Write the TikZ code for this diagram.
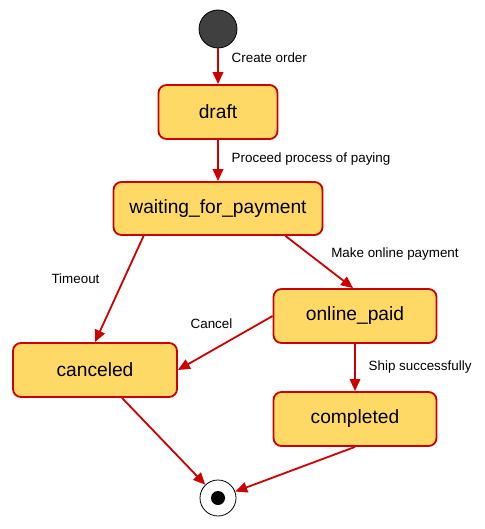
\documentclass[tikz,border=0pt]{standalone}
\usepackage{fontspec}
\setmainfont{Liberation Sans}
\usetikzlibrary{arrows.meta}
\definecolor{stfill}{HTML}{FFD966}
\definecolor{stline}{HTML}{CC0000}
\definecolor{initfill}{HTML}{404040}
\tikzset{
  statebox/.style={draw=stline, fill=stfill, line width=1.8pt, rounded corners=8pt,
    inner sep=0pt, font=\fontsize{19.2}{22}\selectfont},
  trans/.style={draw=stline, line width=1.8pt, -{Triangle[length=12pt,width=10.5pt]}},
  lbl/.style={font=\fontsize{13.4}{15}\selectfont, inner sep=0pt},
}
\begin{document}
\begin{tikzpicture}[x=1pt,y=-1pt]
\useasboundingbox (0,0) rectangle (484,529);
\node[circle, draw=black, fill=initfill, line width=0.8pt, minimum size=38pt, inner sep=0pt] (init) at (218,29) {};
\node[statebox, minimum width=119pt, minimum height=54pt] (draft) at (218,112) {draft};
\node[statebox, minimum width=209pt, minimum height=53pt] (wait) at (218,208.5) {waiting\_for\_payment};
\node[statebox, minimum width=163pt, minimum height=54pt] (paid) at (355,316) {online\_paid};
\node[statebox, minimum width=164pt, minimum height=54pt] (canceled) at (95,370) {canceled};
\node[statebox, minimum width=163pt, minimum height=54pt] (completed) at (355,419) {completed};
\node[circle, draw=black, fill=white, line width=0.8pt, minimum size=36pt, inner sep=0pt] (final) at (218,498) {};
\node[circle, fill=black, minimum size=14pt, inner sep=0pt] (finaldot) at (final) {};

\draw[trans] (init) -- (draft);
\draw[trans] (draft) -- (wait);
\draw[trans] ([xshift=31pt]wait.south west) -- (canceled.north);
\draw[trans] ([xshift=-38pt]wait.south east) -- ([xshift=-2pt]paid.north);
\draw[trans] (paid.west) -- (canceled.east);
\draw[trans] (paid) -- (completed);
\draw[trans] ([xshift=27pt]canceled.south) -- (final);
\draw[trans] (completed.south) -- (final);

\node[lbl, anchor=west] (l1) at (231.5,58) {Create order};
\node[lbl, anchor=west] (l2) at (231.5,159) {Proceed process of paying};
\node[lbl] (l3) at (75.5,279) {Timeout};
\node[lbl] (l4) at (395,254) {Make online payment};
\node[lbl] (l5) at (211.5,324) {Cancel};
\node[lbl, anchor=west] (l6) at (368.5,367) {Ship successfully};
\end{tikzpicture}
\end{document}
